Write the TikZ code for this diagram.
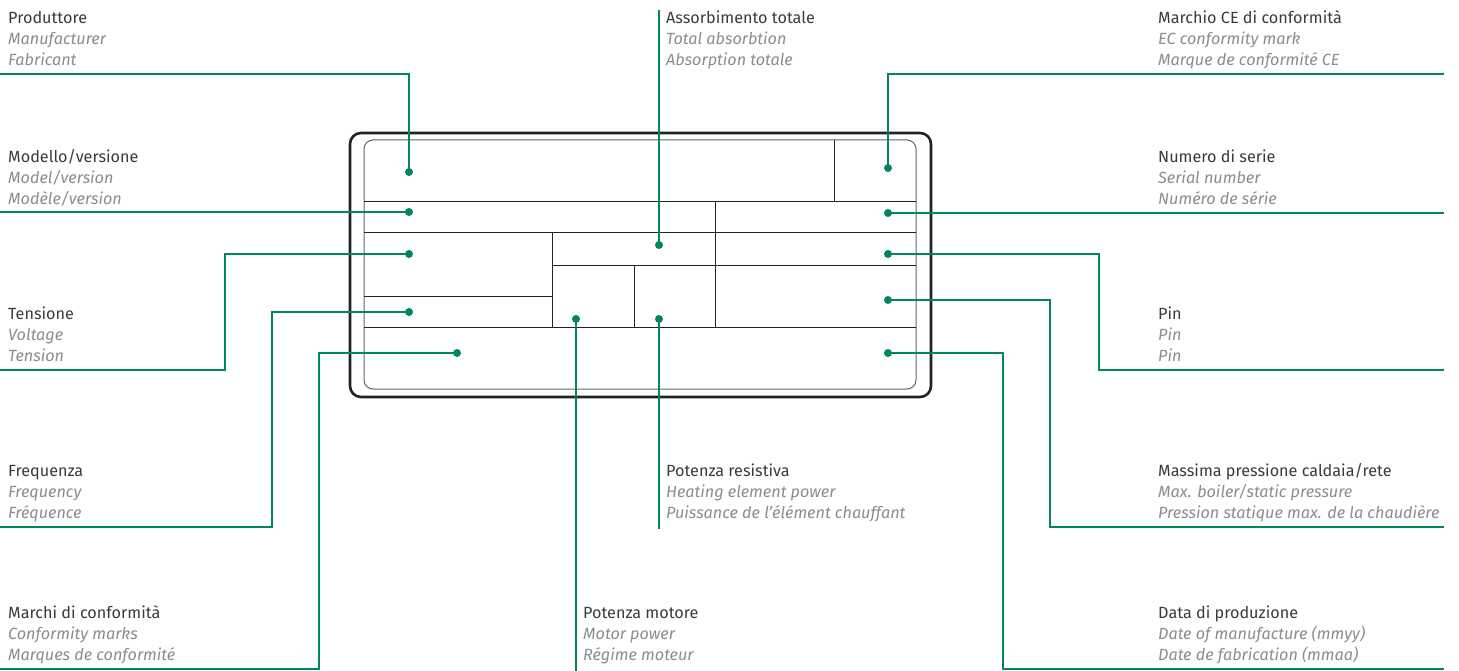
\documentclass[tikz,border=0pt]{standalone}
\usepackage{fontspec}
\setmainfont{Fira Sans}
\definecolor{grn}{HTML}{00875A}
\definecolor{ttl}{HTML}{3A3A3A}
\definecolor{sub}{HTML}{8C8C8C}
\definecolor{plate}{HTML}{222222}
\begin{document}
\begin{tikzpicture}[x=1pt,y=-1pt,
  ttlbl/.style={anchor=base west,inner sep=0pt,text=ttl,font=\fontsize{16.2}{19}\selectfont},
  sublbl/.style={anchor=base west,inner sep=0pt,text=sub,font=\fontsize{16.2}{19}\selectfont\itshape},
  lead/.style={draw=grn,line width=2pt},
  dotn/.style={circle,fill=grn,inner sep=0pt,minimum size=8pt},
  cell/.style={draw=plate,line width=1pt}]
\useasboundingbox (0,0) rectangle (1459,671);
% plate
\draw[draw=plate,line width=2.6pt,rounded corners=11pt] (350,133) rectangle (931,397);
\draw[draw=plate!70,line width=1pt,rounded corners=9pt] (364,140) rectangle (916,389);
\draw[cell] (364,202) -- (916,202);
\draw[cell] (364,233) -- (916,233);
\draw[cell] (552,265) -- (916,265);
\draw[cell] (364,296) -- (552,296);
\draw[cell] (364,327) -- (916,327);
\draw[cell] (834,140) -- (834,202);
\draw[cell] (552,233) -- (552,327);
\draw[cell] (634,265) -- (634,327);
\draw[cell] (715,202) -- (715,327);
% dots
\node[dotn] (dProd) at (409,172) {};
\node[dotn] (dMod) at (409,212) {};
\node[dotn] (dTen) at (409,254) {};
\node[dotn] (dFreq) at (409,312) {};
\node[dotn] (dMarchi) at (457,353) {};
\node[dotn] (dMot) at (576,319) {};
\node[dotn] (dRes) at (659,319) {};
\node[dotn] (dAss) at (659,245) {};
\node[dotn] (dCE) at (888,168) {};
\node[dotn] (dSer) at (888,213) {};
\node[dotn] (dPin) at (888,254) {};
\node[dotn] (dPres) at (888,300) {};
\node[dotn] (dData) at (888,353) {};
% free ends
\coordinate (eProd) at (0,74);
\coordinate (eMod) at (0,212);
\coordinate (eTen) at (0,370);
\coordinate (eFreq) at (0,527);
\coordinate (eMarchi) at (0,669);
\coordinate (eMot) at (576,671);
\coordinate (eRes) at (659,529);
\coordinate (eAss) at (659,10);
\coordinate (eCE) at (1444,74);
\coordinate (eSer) at (1444,213);
\coordinate (ePin) at (1444,370);
\coordinate (ePres) at (1444,527);
\coordinate (eData) at (1444,669);
% leaders
\draw[lead] (dProd.center) |- (eProd);
\draw[lead] (dMod.center) -- (eMod);
\draw[lead] (dTen.center) -- (225,254) |- (eTen);
\draw[lead] (dFreq.center) -- (272,312) |- (eFreq);
\draw[lead] (dMarchi.center) -- (319,353) |- (eMarchi);
\draw[lead] (dMot.center) -- (eMot);
\draw[lead] (dRes.center) -- (eRes);
\draw[lead] (dAss.center) -- (eAss);
\draw[lead] (dCE.center) |- (eCE);
\draw[lead] (dSer.center) -- (eSer);
\draw[lead] (dPin.center) -- (1099,254) |- (ePin);
\draw[lead] (dPres.center) -- (1050,300) |- (ePres);
\draw[lead] (dData.center) -- (1003,353) |- (eData);
% labels
\node[ttlbl] (tProd) at (8,24) {Produttore};
\node[sublbl] (sProd1) at (8,45) {Manufacturer};
\node[sublbl] (sProd2) at (8,66) {Fabricant};
\node[ttlbl] (tMod) at (8,163) {Modello/versione};
\node[sublbl] (sMod1) at (8,184) {Model/version};
\node[sublbl] (sMod2) at (8,205) {Modèle/version};
\node[ttlbl] (tTen) at (8,319) {Tensione};
\node[sublbl] (sTen1) at (8,340) {Voltage};
\node[sublbl] (sTen2) at (8,361) {Tension};
\node[ttlbl] (tFreq) at (8,476) {Frequenza};
\node[sublbl] (sFreq1) at (8,497) {Frequency};
\node[sublbl] (sFreq2) at (8,518) {Fréquence};
\node[ttlbl] (tMarchi) at (8,618) {Marchi di conformità};
\node[sublbl] (sMarchi1) at (8,639) {Conformity marks};
\node[sublbl] (sMarchi2) at (8,660) {Marques de conformité};
\node[ttlbl] (tAss) at (666,24) {Assorbimento totale};
\node[sublbl] (sAss1) at (666,45) {Total absorbtion};
\node[sublbl] (sAss2) at (666,66) {Absorption totale};
\node[ttlbl] (tRes) at (666,476) {Potenza resistiva};
\node[sublbl] (sRes1) at (666,497) {Heating element power};
\node[sublbl] (sRes2) at (666,518) {Puissance de l’élément chauffant};
\node[ttlbl] (tMot) at (583,618) {Potenza motore};
\node[sublbl] (sMot1) at (583,639) {Motor power};
\node[sublbl] (sMot2) at (583,660) {Régime moteur};
\node[ttlbl] (tCE) at (1158,24) {Marchio CE di conformità};
\node[sublbl] (sCE1) at (1158,45) {EC conformity mark};
\node[sublbl] (sCE2) at (1158,66) {Marque de conformité CE};
\node[ttlbl] (tSer) at (1158,163) {Numero di serie};
\node[sublbl] (sSer1) at (1158,184) {Serial number};
\node[sublbl] (sSer2) at (1158,205) {Numéro de série};
\node[ttlbl] (tPin) at (1158,319) {Pin};
\node[sublbl] (sPin1) at (1158,340) {Pin};
\node[sublbl] (sPin2) at (1158,361) {Pin};
\node[ttlbl] (tPres) at (1158,476) {Massima pressione caldaia/rete};
\node[sublbl] (sPres1) at (1158,497) {Max. boiler/static pressure};
\node[sublbl] (sPres2) at (1158,518) {Pression statique max. de la chaudière};
\node[ttlbl] (tData) at (1158,618) {Data di produzione};
\node[sublbl] (sData1) at (1158,639) {Date of manufacture (mmyy)};
\node[sublbl] (sData2) at (1158,660) {Date de fabrication (mmaa)};
\end{tikzpicture}
\end{document}
